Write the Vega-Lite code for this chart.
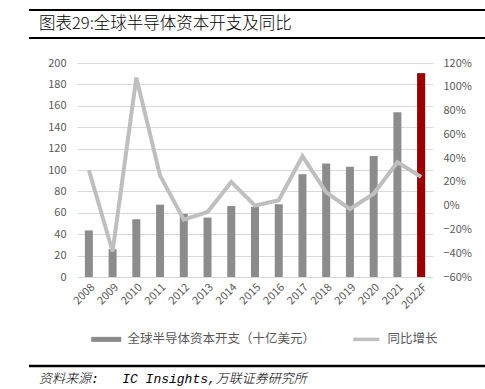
{
  "$schema": "https://vega.github.io/schema/vega-lite/v6.json",
  "padding": {"left": 27, "top": 9, "right": 0, "bottom": 0},
  "background": "white",
  "columns": 1,
  "spacing": 18,
  "resolve": {"legend": {"color": "independent"}},
  "config": {
    "view": {"stroke": null},
    "font": "Noto Sans CJK SC",
    "axis": {
      "labelFont": "Noto Sans CJK SC",
      "labelColor": "#595959",
      "labelFontSize": 11,
      "domain": false,
      "ticks": false,
      "gridColor": "#d9d9d9",
      "gridWidth": 1,
      "title": null
    }
  },
  "concat": [
    {
      "width": 410,
      "height": 28,
      "data": {"values": [{"t": "图表29:全球半导体资本开支及同比"}]},
      "layer": [
        {
          "mark": {"type": "rule", "color": "#000000", "strokeWidth": 2},
          "encoding": {
            "x": {"datum": 0, "type": "quantitative", "scale": {"domain": [0, 1], "range": [-48, 410]}, "axis": null},
            "x2": {"datum": 1},
            "y": {"datum": 0, "type": "quantitative", "scale": {"domain": [0, 1]}, "axis": null}
          }
        },
        {
          "mark": {"type": "rule", "color": "#000000", "strokeWidth": 2},
          "encoding": {
            "x": {"datum": 0, "type": "quantitative", "scale": {"domain": [0, 1], "range": [-48, 410]}, "axis": null},
            "x2": {"datum": 1},
            "y": {"datum": 1, "type": "quantitative", "scale": {"domain": [0, 1]}, "axis": null}
          }
        },
        {
          "mark": {"type": "text", "align": "left", "baseline": "middle", "fontSize": 16.5, "dx": 10, "color": "#000000", "font": "Noto Sans CJK SC", "fontWeight": 300},
          "encoding": {
            "text": {"field": "t"},
            "x": {"datum": 0, "type": "quantitative", "scale": {"domain": [0, 1], "range": [-48, 410]}, "axis": null},
            "y": {"datum": 0.5, "type": "quantitative", "scale": {"domain": [0, 1]}, "axis": null}
          }
        }
      ]
    },
    {
      "width": 356,
      "height": 214,
      "data": {
        "values": [
          {"year": "2008", "capex": 43.5, "yoy": 0.30},
          {"year": "2009", "capex": 26, "yoy": -0.385},
          {"year": "2010", "capex": 54, "yoy": 1.077},
          {"year": "2011", "capex": 67.6, "yoy": 0.253},
          {"year": "2012", "capex": 59, "yoy": -0.118},
          {"year": "2013", "capex": 55.5, "yoy": -0.053},
          {"year": "2014", "capex": 66.3, "yoy": 0.20},
          {"year": "2015", "capex": 65.6, "yoy": 0.0},
          {"year": "2016", "capex": 68, "yoy": 0.045},
          {"year": "2017", "capex": 96, "yoy": 0.416},
          {"year": "2018", "capex": 106, "yoy": 0.112},
          {"year": "2019", "capex": 103, "yoy": -0.028},
          {"year": "2020", "capex": 113, "yoy": 0.101},
          {"year": "2021", "capex": 154, "yoy": 0.365},
          {"year": "2022F", "capex": 190.5, "yoy": 0.242}
        ]
      },
      "encoding": {
        "x": {
          "field": "year",
          "type": "ordinal",
          "sort": null,
          "scale": {"paddingInner": 0, "paddingOuter": 0},
          "axis": {"labelAngle": -45, "labelPadding": 4, "labelFontSize": 11, "grid": false}
        }
      },
      "layer": [
        {
          "encoding": {
            "y": {
              "field": "capex",
              "type": "quantitative",
              "scale": {"domain": [0, 200], "nice": false},
              "axis": {"orient": "left", "values": [0, 20, 40, 60, 80, 100, 120, 140, 160, 180, 200], "grid": true, "labelPadding": 11, "minExtent": 48}
            }
          },
          "layer": [
            {
              "mark": {"type": "bar", "width": 8},
              "encoding": {
                "color": {
                  "datum": "全球半导体资本开支（十亿美元）",
                  "type": "nominal",
                  "scale": {"domain": ["全球半导体资本开支（十亿美元）", "同比增长"], "range": ["#8c8c8c", "#bfbfbf"]},
                  "legend": {
                    "title": null,
                    "orient": "none",
                    "legendX": 23,
                    "legendY": 270,
                    "direction": "horizontal",
                    "labelFont": "Noto Sans CJK SC",
                    "labelFontSize": 12.5,
                    "labelColor": "#595959",
                    "labelLimit": 400,
                    "labelOffset": 15,
                    "columnPadding": 37,
                    "symbolSize": 144,
                    "symbolStrokeWidth": 0,
                    "symbolOpacity": 1,
                    "encode": {
                      "symbols": {
                        "update": {
                          "shape": {"signal": "datum.value === '同比增长' ? 'M-2.17,-0.29H2.17V0.29H-2.17Z' : 'M-2.5,-0.42H2.5V0.42H-2.5Z'"},
                          "fill": {"signal": "datum.value === '同比增长' ? '#bfbfbf' : '#8c8c8c'"},
                          "strokeWidth": {"value": 0},
                          "opacity": {"value": 1}
                        }
                      }
                    }
                  }
                }
              }
            },
            {
              "transform": [{"filter": "datum.year === '2022F'"}],
              "mark": {"type": "bar", "width": 8, "color": "#990000"},
              "encoding": {}
            }
          ]
        },
        {
          "mark": {"type": "line", "strokeWidth": 4, "color": "#bfbfbf"},
          "encoding": {
            "y": {
              "field": "yoy",
              "type": "quantitative",
              "scale": {"domain": [-0.6, 1.2], "nice": false, "zero": false},
              "axis": {"orient": "right", "format": ".0%", "values": [-0.6, -0.4, -0.2, 0, 0.2, 0.4, 0.6, 0.8, 1.0, 1.2], "grid": false, "labelPadding": 10}
            },
            "color": {"datum": "同比增长", "type": "nominal"}
          }
        }
      ],
      "resolve": {"scale": {"y": "independent"}}
    },
    {
      "width": 410,
      "height": 20,
      "data": {"values": [{"t": "资料来源:\u00a0\u00a0\u00a0IC Insights,万联证券研究所"}]},
      "layer": [
        {
          "mark": {"type": "rule", "color": "#000000", "strokeWidth": 2.5},
          "encoding": {
            "x": {"datum": 0, "type": "quantitative", "scale": {"domain": [0, 1], "range": [-48, 410]}, "axis": null},
            "x2": {"datum": 1},
            "y": {"datum": 1, "type": "quantitative", "scale": {"domain": [0, 1]}, "axis": null}
          }
        },
        {
          "mark": {"type": "text", "align": "left", "baseline": "middle", "fontSize": 13, "dx": 10, "fontStyle": "italic", "fontWeight": 300, "color": "#000000", "font": "Liberation Mono, Noto Sans CJK SC"},
          "encoding": {
            "text": {"field": "t"},
            "x": {"datum": 0, "type": "quantitative", "scale": {"domain": [0, 1], "range": [-48, 410]}, "axis": null},
            "y": {"datum": 0.35, "type": "quantitative", "scale": {"domain": [0, 1]}, "axis": null}
          }
        }
      ]
    }
  ]
}
